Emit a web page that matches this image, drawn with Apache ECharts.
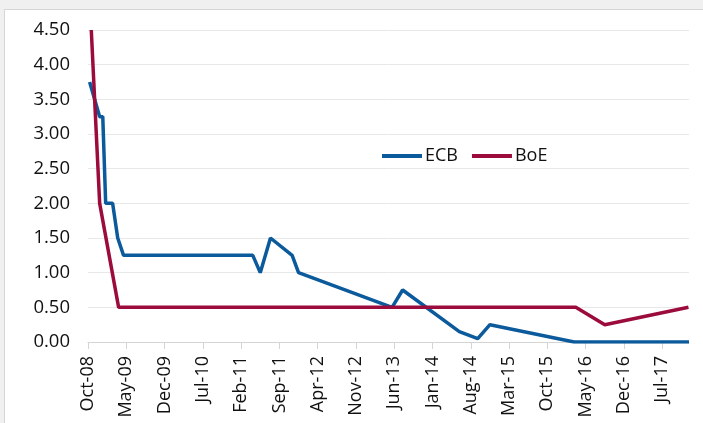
<!DOCTYPE html>
<html>
<head>
<meta charset="utf-8">
<script src="https://cdn.jsdelivr.net/npm/echarts@6/dist/echarts.min.js"></script>
<style>
  html, body { margin: 0; padding: 0; background: #f0f0f0; overflow: hidden; }
  #frame { position: absolute; left: 4px; top: 9px; width: 720px; height: 440px; background: #fff; border: 1px solid #d6d6d6; }
  #chart { position: absolute; left: 0; top: 0; width: 703px; height: 423px; }
</style>
</head>
<body>
<div id="frame"></div>
<div id="chart"></div>
<script>
// policy rates, points where the line changes direction
const ecbDates = ['2008-10-10', '2008-12-05', '2008-12-22', '2009-01-08', '2009-02-16', '2009-03-14', '2009-04-16',
  '2011-04-05', '2011-05-16', '2011-07-12', '2011-11-11', '2011-12-16', '2013-05-19', '2013-07-17',
  '2014-05-28', '2014-09-09', '2014-11-16', '2016-02-28', '2017-11-28'];
const ecbRates = [3.75, 3.25, 3.25, 2.00, 2.00, 1.50, 1.25,
  1.25, 1.00, 1.50, 1.25, 1.00, 0.50, 0.75,
  0.15, 0.05, 0.25, 0.00, 0.00];

const boeDates = ['2008-10-19', '2008-12-05', '2009-03-19', '2016-03-07', '2016-08-16', '2017-11-25'];
const boeRates = [4.50, 2.00, 0.50, 0.50, 0.25, 0.50];

const axisStart = '2008-10-01';
const axisEnd = '2017-11-28';
const tickStep = 7; // months between labels
const monthNames = ['Jan', 'Feb', 'Mar', 'Apr', 'May', 'Jun', 'Jul', 'Aug', 'Sep', 'Oct', 'Nov', 'Dec'];

// months since Oct-08
function toMonth(s) {
  var p = s.split('-').map(Number);
  return (p[0] - 2008) * 12 + (p[1] - 10) + (p[2] - 1) / 30;
}
function monthLabel(m) {
  var idx = 9 + Math.round(m);
  var yy = 8 + Math.floor(idx / 12);
  return monthNames[idx % 12] + '-' + (yy < 10 ? '0' + yy : yy);
}

var xMax = toMonth(axisEnd);
var tickValues = [];
for (var t = toMonth(axisStart); t <= xMax; t += tickStep) tickValues.push(t);

var myChart = echarts.init(document.getElementById('chart'));
var font = '"Open Sans", "Noto Sans", sans-serif';

var option = {
  backgroundColor: 'transparent',
  animation: false,
  textStyle: { fontFamily: font },
  legend: {
    left: 377,
    top: 142,
    icon: 'rect',
    itemWidth: 40,
    itemHeight: 4,
    itemGap: 14,
    textStyle: { fontSize: 18, color: '#111', fontFamily: font, padding: [0, 0, 0, -2] },
    data: ['ECB', 'BoE']
  },
  grid: { left: 88, right: 14, top: 30, bottom: 81 },
  xAxis: {
    type: 'value',
    min: 0,
    max: xMax,
    splitLine: { show: false },
    axisLine: { lineStyle: { color: '#d4d4d4', width: 1 } },
    axisTick: { show: true, length: 7, lineStyle: { color: '#d4d4d4' }, customValues: tickValues },
    axisLabel: {
      rotate: 90,
      margin: 14,
      fontSize: 18,
      color: '#111',
      fontFamily: font,
      customValues: tickValues,
      formatter: function (v) { return monthLabel(v); }
    }
  },
  yAxis: {
    type: 'value',
    min: 0,
    max: 4.5,
    interval: 0.5,
    axisLine: { show: false },
    axisTick: { show: false },
    splitLine: { lineStyle: { color: '#e8e8e8', width: 1 } },
    axisLabel: {
      margin: 18,
      fontSize: 18.5,
      color: '#111',
      fontFamily: font,
      formatter: function (v) { return v.toFixed(2); }
    }
  },
  series: [
    {
      name: 'ECB',
      type: 'line',
      symbol: 'none',
      color: '#0b5a9c',
      lineStyle: { width: 3.5, color: '#0b5a9c' },
      data: ecbDates.map(function (d, i) { return [toMonth(d), ecbRates[i]]; })
    },
    {
      name: 'BoE',
      type: 'line',
      symbol: 'none',
      color: '#9b0b3b',
      lineStyle: { width: 3.5, color: '#9b0b3b' },
      data: boeDates.map(function (d, i) { return [toMonth(d), boeRates[i]]; })
    }
  ]
};

option && myChart.setOption(option);
</script>
</body>
</html>
